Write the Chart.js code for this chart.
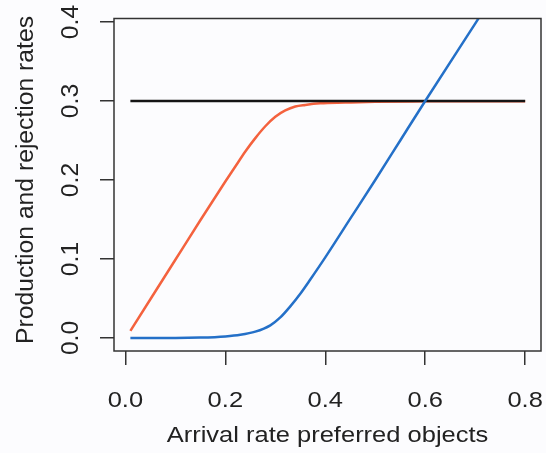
<!DOCTYPE html>
<html>
<head>
<meta charset="utf-8">
<script src="https://cdn.jsdelivr.net/npm/chart.js@4"></script>
<style>
  html, body { margin: 0; padding: 0; background: #fcfcfe; }
  #wrap { width: 546px; height: 453px; }
  canvas { display: block; }
</style>
</head>
<body>
<div id="wrap"><canvas id="rates-chart" width="546" height="453"></canvas></div>
<script>
// Values
const xTicks = [0, 0.2, 0.4, 0.6, 0.8];
const xTickLabels = ['0.0', '0.2', '0.4', '0.6', '0.8'];
const yTicks = [0, 0.1, 0.2, 0.3, 0.4];
const yTickLabels = ['0.0', '0.1', '0.2', '0.3', '0.4'];

const capacityX = [0.01, 0.8];
const capacityY = [0.3, 0.3];

const productionX = [0.01, 0.05, 0.1, 0.15, 0.2, 0.22, 0.24, 0.26, 0.28, 0.3, 0.32, 0.34, 0.36, 0.39, 0.44, 0.5, 0.6, 0.7, 0.8];
const productionY = [0.009, 0.049, 0.099, 0.149, 0.198, 0.217, 0.236, 0.253, 0.268, 0.28, 0.288, 0.293, 0.295, 0.297, 0.298, 0.299, 0.2995, 0.2998, 0.2998];

const rejectionX = [0.01, 0.1, 0.15, 0.2, 0.23, 0.26, 0.29, 0.31, 0.33, 0.35, 0.37, 0.4, 0.45, 0.5, 0.55, 0.6, 0.7, 0.8];
const rejectionY = [0, 0, 0.0005, 0.002, 0.004, 0.008, 0.016, 0.026, 0.04, 0.056, 0.074, 0.102, 0.151, 0.2, 0.25, 0.3, 0.398, 0.496];

const xTitle = 'Arrival rate preferred objects';
const yTitle = 'Production and rejection rates';

const toPoints = (xs, ys) => xs.map((x, i) => ({ x: x, y: ys[i] }));

const FONT_FAMILY = '"Liberation Sans", Arial, sans-serif';
const INK = '#222';

// horizontal text in the original is a bit flattened, so squash it
function flatText(ctx, text, x, y) {
    ctx.save();
    ctx.translate(x, y);
    ctx.scale(1, 0.84);
    ctx.fillText(text, 0, 0);
    ctx.restore();
}

function upText(ctx, text, x, y) {
    ctx.save();
    ctx.translate(x, y);
    ctx.rotate(-Math.PI / 2);
    ctx.fillText(text, 0, 0);
    ctx.restore();
}

// box round the plot plus R-style tick labels and axis titles
const frameAndText = {
    id: 'frameAndText',
    afterDraw(chart) {
        const { ctx, chartArea: a, scales } = chart;
        ctx.save();
        ctx.strokeStyle = '#333';
        ctx.lineWidth = 1.5;
        ctx.strokeRect(a.left, a.top, a.right - a.left, a.bottom - a.top);

        ctx.fillStyle = INK;
        ctx.textAlign = 'center';
        ctx.textBaseline = 'alphabetic';
        ctx.font = '25.5px ' + FONT_FAMILY;
        xTicks.forEach((v, i) => {
            flatText(ctx, xTickLabels[i], scales.x.getPixelForValue(v), 407);
        });
        flatText(ctx, xTitle, (a.left + a.right) / 2, 442);

        ctx.font = '24.7px ' + FONT_FAMILY;
        yTicks.forEach((v, i) => {
            upText(ctx, yTickLabels[i], 78, scales.y.getPixelForValue(v));
        });
        upText(ctx, yTitle, 33, 180);
        ctx.restore();
    }
};

const axisStyle = {
    grid: { drawOnChartArea: false, drawTicks: true, tickLength: 14, color: '#333', lineWidth: 1.5 },
    border: { display: false },
    ticks: { display: false }
};

const ratesChart = new Chart(document.getElementById('rates-chart'), {
    type: 'line',
    data: {
        datasets: [{
            label: 'Rejection',
            data: toPoints(rejectionX, rejectionY),
            borderColor: '#2470c8',
            borderWidth: 2.5,
            pointRadius: 0,
            cubicInterpolationMode: 'monotone',
            order: 1
        }, {
            label: 'Capacity',
            data: toPoints(capacityX, capacityY),
            borderColor: '#151515',
            borderWidth: 2.5,
            pointRadius: 0,
            order: 2
        }, {
            label: 'Production',
            data: toPoints(productionX, productionY),
            borderColor: '#f4623e',
            borderWidth: 2.5,
            pointRadius: 0,
            cubicInterpolationMode: 'monotone',
            order: 3
        }]
    },
    options: {
        responsive: false,
        animation: false,
        layout: { padding: { top: 18.5, right: 5, left: 0, bottom: 0 } },
        plugins: {
            legend: { display: false },
            tooltip: { enabled: false }
        },
        scales: {
            x: Object.assign({
                type: 'linear',
                min: -0.0228,
                max: 0.8317,
                afterBuildTicks: s => { s.ticks = xTicks.map(v => ({ value: v })); },
                afterFit: s => { s.height = 102; }
            }, axisStyle),
            y: Object.assign({
                type: 'linear',
                min: -0.0165,
                max: 0.4044,
                afterBuildTicks: s => { s.ticks = yTicks.map(v => ({ value: v })); },
                afterFit: s => { s.width = 114; }
            }, axisStyle)
        }
    },
    plugins: [frameAndText]
});
</script>
</body>
</html>
